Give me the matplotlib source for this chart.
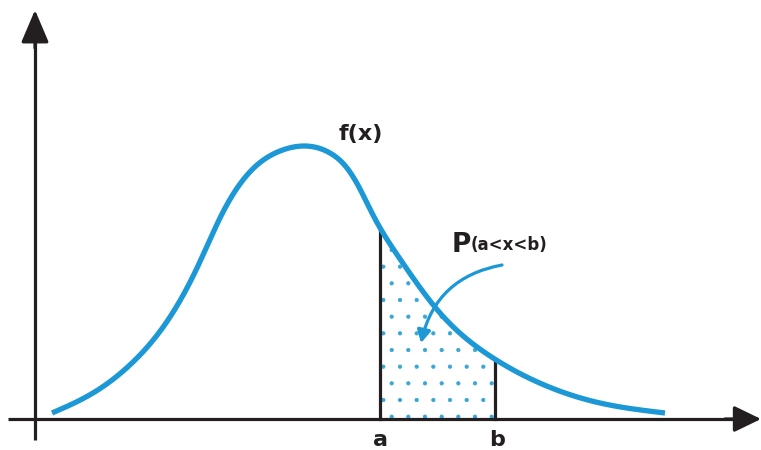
import numpy as np
import matplotlib
matplotlib.use("Agg")
import matplotlib.pyplot as plt
from matplotlib.patches import FancyArrowPatch

# Density curve (x position, height above the x-axis)
curve_x = [52, 93, 133, 170, 197, 223, 257, 280, 305, 330, 347, 360, 373,
           400, 440, 490, 533, 600, 665]
curve_y = [5, 25, 56, 101, 150, 206, 253, 267, 272, 265, 250, 229, 203,
           159, 105, 62, 38, 15, 5]

a_pos = 380
b_pos = 495
bound_labels = ["a", "b"]
curve_label = "f(x)"
prob_main = "P"
prob_sub = "(a<x<b)"

BLUE = "#1b98d5"
DOT = "#3aa6d8"
BLACK = "#231f20"
plt.rcParams["hatch.linewidth"] = 0.6

fig = plt.figure(figsize=(7.61, 4.50), dpi=100)
ax = fig.add_axes([0, 0, 1, 1])
ax.set_xlim(0, 761)
ax.set_ylim(-32, 418)
ax.axis("off")


def natural_spline(xs, ys, xq):
    """Evaluate a natural cubic spline through (xs, ys) at xq (for drawing)."""
    x = np.asarray(xs, float)
    y = np.asarray(ys, float)
    n = len(x)
    h = np.diff(x)
    A = np.zeros((n, n))
    r = np.zeros(n)
    A[0, 0] = A[-1, -1] = 1.0
    for i in range(1, n - 1):
        A[i, i - 1] = h[i - 1]
        A[i, i] = 2 * (h[i - 1] + h[i])
        A[i, i + 1] = h[i]
        r[i] = 6 * ((y[i + 1] - y[i]) / h[i] - (y[i] - y[i - 1]) / h[i - 1])
    m = np.linalg.solve(A, r)
    idx = np.clip(np.searchsorted(x, xq) - 1, 0, n - 2)
    x0, x1 = x[idx], x[idx + 1]
    hh = x1 - x0
    t0, t1 = x1 - xq, xq - x0
    return (m[idx] * t0 ** 3 / (6 * hh) + m[idx + 1] * t1 ** 3 / (6 * hh)
            + (y[idx] / hh - m[idx] * hh / 6) * t0
            + (y[idx + 1] / hh - m[idx + 1] * hh / 6) * t1)


cx = np.linspace(curve_x[0], curve_x[-1], 800)
cy = natural_spline(curve_x, curve_y, cx)

# axes with arrow heads
ax.plot([35, 35], [-22, 390], color=BLACK, lw=2.3, solid_capstyle="butt")
ax.annotate("", xy=(35, 408), xytext=(35, 370),
            arrowprops=dict(arrowstyle="-|>,head_length=2.0,head_width=0.85",
                            color=BLACK, lw=2.3, mutation_scale=10,
                            shrinkA=0, shrinkB=0))
ax.plot([8, 740], [-1, -1], color=BLACK, lw=2.3, solid_capstyle="butt")
ax.annotate("", xy=(761, -1), xytext=(725, -1),
            arrowprops=dict(arrowstyle="-|>,head_length=1.65,head_width=0.8",
                            color=BLACK, lw=2.3, mutation_scale=10,
                            shrinkA=0, shrinkB=0))

# shaded probability region (dotted)
xs = np.linspace(a_pos, b_pos, 120)
ys = np.interp(xs, cx, cy)
ax.fill_between(xs, 0, ys, facecolor="none", edgecolor=DOT, hatch=".", lw=0)

# bound lines
ax.plot([a_pos, a_pos], [-1, np.interp(a_pos, cx, cy)], color=BLACK, lw=2.3)
ax.plot([b_pos, b_pos], [-1, np.interp(b_pos, cx, cy)], color=BLACK, lw=2.3)

# curve
ax.plot(cx, cy, color=BLUE, lw=3.8, solid_capstyle="butt")

# labels
ax.text(a_pos + 1, -22, bound_labels[0], ha="center", va="center",
        fontsize=16, fontweight="bold", color=BLACK)
ax.text(b_pos + 2, -22, bound_labels[1], ha="center", va="center",
        fontsize=16, fontweight="bold", color=BLACK)
ax.text(361, 284, curve_label, ha="center", va="center",
        fontsize=16, fontweight="bold", color=BLACK)
ax.text(452, 166, prob_main, ha="left", va="baseline",
        fontsize=19, fontweight="bold", color=BLACK)
ax.text(471, 168, prob_sub, ha="left", va="baseline",
        fontsize=12, fontweight="bold", color=BLACK)

# curved pointer arrow
arr = FancyArrowPatch((502, 153), (421, 75),
                      connectionstyle="arc3,rad=0.33",
                      arrowstyle="-|>,head_length=0.75,head_width=0.4",
                      mutation_scale=10, color=BLUE, lw=2.3,
                      shrinkA=0, shrinkB=0)
ax.add_patch(arr)

fig.savefig("out.png", dpi=100)
